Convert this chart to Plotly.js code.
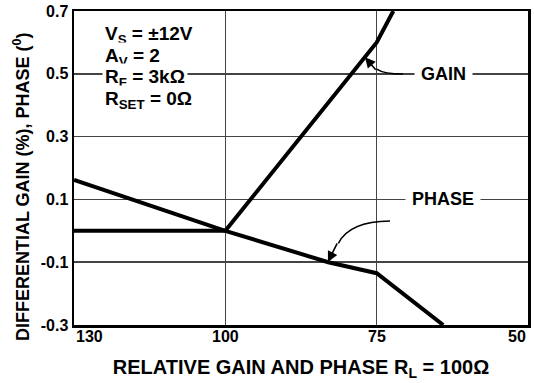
<!DOCTYPE html>
<html>
<head>
<meta charset="utf-8">
<script src="https://cdn.plot.ly/plotly-3.0.1.min.js"></script>
<style>html,body{margin:0;padding:0;background:#fff;}#chart{width:534px;height:383px;}</style>
</head>
<body>
<div id="chart"></div>
<script>
// X axis: equally spaced category positions (index units) labelled with relative load
const xTickPos = [0, 1, 2, 3];
const xTickLabels = ['130', '100', '75', '50'];
const yTickVals = [-0.3, -0.1, 0.1, 0.3, 0.5, 0.7];
const yTickLabels = ['-0.3', '-0.1', '0.1', '0.3', '0.5', '0.7'];

// Series (x in axis index units)
const gainX = [0, 1, 2, 2.11];
const gainY = [0, 0, 0.6, 0.7];
const phaseX = [0, 1, 1.68, 2, 2.44];
const phaseY = [0.162, 0, -0.1, -0.135, -0.3];

// Condition text lines
const condLines = ['V<sub>S</sub> = ±12V', 'A<sub>V</sub> = 2', 'R<sub>F</sub> = 3kΩ', 'R<sub>SET</sub> = 0Ω'];
const condY = [0.624, 0.554, 0.487, 0.417];

const FONT = 'Liberation Sans, Arial, sans-serif';
const bold = (size) => ({family: FONT, size: size, weight: 700, color: '#000'});

const traces = [
  {x: gainX, y: gainY, mode: 'lines', line: {color: '#000', width: 4}, hoverinfo: 'skip'},
  {x: phaseX, y: phaseY, mode: 'lines', line: {color: '#000', width: 4}, hoverinfo: 'skip'}
];

const xTickAnnots = xTickLabels.map((t, i) => ({
  x: xTickPos[i], y: 0, xref: 'x', yref: 'paper', yanchor: 'top', yshift: -1,
  xanchor: i === 0 ? 'left' : (i === xTickLabels.length - 1 ? 'right' : 'center'),
  text: t, showarrow: false, font: bold(16)
}));

const condAnnots = condLines.map((t, i) => ({
  x: 0.185, y: condY[i], xref: 'x', yref: 'y', xanchor: 'left', yanchor: 'middle',
  text: t, showarrow: false, bgcolor: '#fff', borderpad: 2, font: bold(19)
}));

const layout = {
  width: 534, height: 383,
  margin: {l: 74, r: 6, t: 11, b: 58},
  paper_bgcolor: '#fff', plot_bgcolor: '#fff',
  showlegend: false,
  font: {family: FONT, color: '#000'},
  xaxis: {
    range: [0, 3], tickvals: xTickPos, ticktext: xTickLabels, showticklabels: false,
    showgrid: true, gridcolor: '#444', gridwidth: 1.5,
    showline: true, linecolor: '#000', linewidth: 2.5, mirror: true,
    zeroline: false, ticks: '',
    title: {text: 'RELATIVE GAIN AND PHASE R<sub>L</sub> = 100Ω', font: bold(20), standoff: 34}
  },
  yaxis: {
    range: [-0.3, 0.7], tickvals: yTickVals, ticktext: yTickLabels,
    tickfont: bold(16),
    showgrid: true, gridcolor: '#444', gridwidth: 1.5,
    showline: true, linecolor: '#000', linewidth: 2.5, mirror: true,
    zeroline: false, ticks: '', ticklen: 0
  },
  shapes: [
    {type: 'path', xref: 'x', yref: 'y', path: 'M 2.174,0.499 Q 2.05,0.499 2.0,0.515', line: {color: '#000', width: 1.5}},
    {type: 'path', xref: 'x', yref: 'y', path: 'M 2.088,0.031 Q 1.82,0.03 1.747,-0.04', line: {color: '#000', width: 1.5}}
  ],
  annotations: xTickAnnots.concat(condAnnots, [
    {x: -0.114, y: 0.44, xref: 'paper', yref: 'paper', textangle: -90, xanchor: 'center', yanchor: 'middle',
     text: 'DIFFERENTIAL GAIN (%), PHASE (<sup>0</sup>)', showarrow: false, font: bold(18)},
    {x: 2.44, y: 0.5, xref: 'x', yref: 'y', text: 'GAIN', showarrow: false, bgcolor: '#fff', borderpad: 6, font: bold(18)},
    {x: 2.44, y: 0.1, xref: 'x', yref: 'y', text: 'PHASE', showarrow: false, bgcolor: '#fff', borderpad: 6, font: bold(18)},
    {x: 1.923, y: 0.553, xref: 'x', yref: 'y', text: '', showarrow: true, ax: 12, ay: 14,
     arrowhead: 2, arrowsize: 1.3, arrowwidth: 1.6, arrowcolor: '#000'},
    {x: 1.678, y: -0.099, xref: 'x', yref: 'y', text: '', showarrow: true, ax: 10, ay: -20,
     arrowhead: 2, arrowsize: 1.3, arrowwidth: 1.6, arrowcolor: '#000'}
  ])
};

Plotly.newPlot('chart', traces, layout, {staticPlot: true, displayModeBar: false});
</script>
</body>
</html>
